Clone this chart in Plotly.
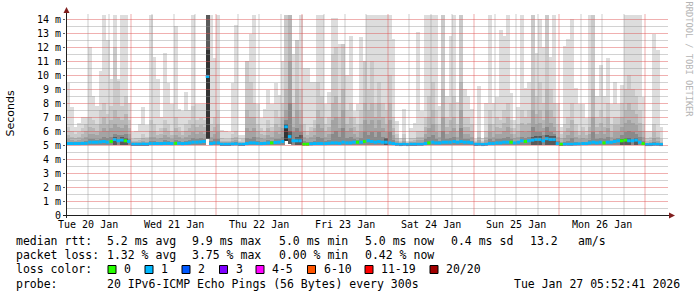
import math
import plotly.graph_objects as go
from datetime import datetime, timedelta

# ---------------- data ----------------
end_time = datetime(2026, 1, 27, 5, 52, 41)
start_time = end_time - timedelta(days=7)
first_bin = datetime(2026, 1, 20, 6, 0, 0)   # hourly consolidated bins

# max ping (lightest smoke)
top = [9.4, 7.7, 6.3, 6.6, 7.0, 7.0, 12.0, 8.5, 7.8, 10.3, 14.3, 12.5,
       9.7, 14.3, 9.7, 14.3, 14.3, 8.0, 5.9, 6.0, 6.5, 7.7, 6.45, 14.3,
       11.3, 9.7, 7.0, 11.6, 9.4, 7.9, 13.5, 7.6, 7.4, 8.8, 7.5, 14.3,
       7.9, 7.9, 7.9, 14.3, 14.3, 11.2, 14.3, 6.1, 6.0, 5.9, 9.4, 13.6,
       5.7, 5.7, 11.0, 12.9, 14.3, 7.9, 6.9, 7.6, 8.9, 7.9, 9.4, 8.6,
       11.0, 14.3, 14.3, 11.5, 12.5, 14.3, 10.5, 10.5, 9.5, 9.5, 14.3, 14.3,
       7.9, 8.8, 14.1, 14.1, 12.2, 12.2, 10.0, 12.8, 7.4, 7.9, 12.7, 11.0,
       14.3, 14.3, 14.3, 14.3, 14.3, 14.3, 14.3, 12.6, 6.7, 5.5, 7.6, 5.3,
       6.2, 6.6, 13.1, 7.4, 14.3, 14.3, 14.3, 14.3, 7.8, 14.3, 8.5, 12.8,
       14.3, 8.1, 14.3, 9.0, 8.5, 7.6, 5.4, 9.2, 5.5, 8.0, 14.3, 8.0,
       8.4, 13.2, 12.8, 14.3, 8.7, 6.8, 7.7, 14.3, 9.1, 9.5, 14.3, 11.6,
       14.0, 12.0, 14.3, 11.3, 14.3, 8.0, 6.3, 12.1, 12.6, 14.0, 9.1, 7.9,
       7.9, 6.9, 14.3, 14.3, 8.5, 10.7, 8.5, 11.2, 7.9, 9.5, 7.9, 9.3,
       14.3, 14.3, 14.3, 14.3, 14.3, 8.4, 6.0, 6.0, 12.9, 11.8, 6.3]

# 19th ping
p19 = [6.3, 6.0, 5.8, 5.9, 6.2, 6.5, 7.0, 6.8, 6.5, 7.5, 8.0, 7.2,
       7.8, 12.0, 9.6, 7.8, 8.5, 6.8, 5.4, 5.5, 5.5, 5.8, 5.6, 6.8,
       6.5, 6.0, 6.2, 6.8, 6.5, 6.0, 7.0, 6.3, 6.0, 6.5, 6.8, 7.8,
       6.8, 6.9, 6.8, 14.3, 6.5, 7.0, 7.5, 5.5, 5.4, 5.4, 5.8, 6.0,
       5.3, 5.4, 11.0, 9.5, 8.0, 6.5, 6.2, 6.0, 6.8, 6.3, 7.5, 7.0,
       8.0, 14.3, 14.3, 8.0, 12.5, 9.0, 6.5, 6.0, 6.3, 6.8, 9.5, 8.5,
       6.5, 7.0, 11.5, 12.0, 8.0, 12.2, 7.5, 8.0, 7.0, 6.5, 7.5, 11.0,
       9.0, 11.0, 8.0, 9.5, 8.0, 7.5, 10.0, 7.0, 5.8, 5.3, 5.8, 5.2,
       5.5, 5.5, 6.0, 6.0, 7.0, 8.5, 9.5, 7.5, 6.5, 14.3, 7.0, 8.0,
       8.5, 6.5, 14.3, 7.0, 7.0, 6.5, 5.3, 6.0, 5.3, 6.0, 7.5, 6.5,
       7.0, 6.8, 7.5, 8.0, 6.8, 6.2, 6.5, 7.5, 7.0, 7.5, 14.3, 8.5,
       9.5, 8.0, 14.3, 9.0, 8.0, 6.5, 5.8, 6.5, 7.0, 8.0, 6.5, 6.0,
       6.3, 6.0, 7.0, 14.3, 7.0, 7.5, 7.0, 8.0, 6.5, 7.0, 7.0, 8.0,
       9.0, 10.0, 9.0, 8.5, 7.5, 6.5, 5.5, 5.6, 6.5, 6.0, 5.4]

# 18th ping
p18 = [5.7, 5.6, 5.5, 5.6, 5.8, 6.0, 6.3, 6.2, 6.0, 6.5, 7.0, 6.5,
       6.8, 7.5, 7.0, 6.8, 7.2, 6.2, 5.3, 5.3, 5.35, 5.5, 5.4, 6.0,
       6.0, 5.7, 5.8, 6.2, 6.0, 5.7, 6.2, 5.9, 5.7, 6.0, 6.2, 6.5,
       6.3, 6.4, 6.3, 14.3, 6.0, 6.3, 6.5, 5.3, 5.3, 5.3, 5.5, 5.6,
       5.2, 5.25, 7.5, 7.0, 7.0, 6.0, 5.8, 5.7, 6.2, 5.9, 6.5, 6.3,
       7.0, 9.0, 14.3, 7.0, 9.0, 7.5, 6.0, 5.7, 5.9, 6.2, 7.5, 7.0,
       6.0, 6.3, 8.0, 8.5, 7.0, 9.0, 6.5, 7.0, 6.3, 6.0, 6.5, 8.0,
       7.5, 8.0, 7.0, 8.0, 7.0, 6.5, 8.0, 6.2, 5.5, 5.2, 5.5, 5.15,
       5.3, 5.35, 5.6, 5.6, 6.3, 7.0, 7.5, 6.5, 6.0, 9.0, 6.3, 6.8,
       7.0, 6.0, 9.5, 6.3, 6.3, 6.0, 5.2, 5.6, 5.2, 5.6, 6.5, 6.0,
       6.3, 6.2, 6.6, 7.0, 6.2, 5.8, 6.0, 6.6, 6.4, 6.6, 9.0, 7.2,
       7.5, 6.8, 9.0, 7.5, 7.0, 6.0, 5.5, 5.9, 6.2, 6.8, 6.0, 5.7,
       5.9, 5.7, 6.3, 9.0, 6.3, 6.6, 6.3, 7.0, 6.0, 6.4, 6.4, 7.0,
       7.5, 8.0, 7.5, 7.2, 6.6, 6.0, 5.3, 5.35, 5.9, 5.6, 5.25]

# 17th ping
p17 = [5.4, 5.35, 5.3, 5.35, 5.45, 5.6, 5.8, 5.8, 5.7, 5.9, 6.2, 6.0,
       6.2, 6.5, 6.3, 6.2, 6.4, 5.8, 5.2, 5.2, 5.25, 5.3, 5.25, 5.6,
       5.6, 5.45, 5.5, 5.7, 5.6, 5.45, 5.7, 5.55, 5.45, 5.6, 5.7, 5.9,
       5.8, 5.9, 5.8, 14.3, 5.6, 5.8, 5.9, 5.2, 5.2, 5.2, 5.3, 5.35,
       5.1, 5.15, 6.2, 6.0, 6.2, 5.6, 5.5, 5.45, 5.7, 5.55, 5.9, 5.8,
       6.2, 7.5, 11.0, 6.3, 7.5, 6.5, 5.6, 5.45, 5.55, 5.7, 6.5, 6.2,
       5.6, 5.8, 6.8, 7.0, 6.2, 7.5, 6.0, 6.2, 5.8, 5.6, 5.9, 6.8,
       6.5, 6.8, 6.2, 6.8, 6.2, 5.9, 6.8, 5.7, 5.3, 5.12, 5.3, 5.1,
       5.2, 5.2, 5.35, 5.35, 5.8, 6.2, 6.5, 5.9, 5.6, 7.0, 5.8, 6.0,
       6.2, 5.6, 7.5, 5.8, 5.8, 5.6, 5.12, 5.35, 5.12, 5.35, 5.9, 5.6,
       5.8, 5.8, 6.0, 6.3, 5.8, 5.5, 5.6, 6.0, 5.9, 6.0, 7.5, 6.5,
       6.6, 6.2, 7.5, 6.6, 6.3, 5.6, 5.25, 5.5, 5.7, 6.0, 5.6, 5.4,
       5.5, 5.4, 5.8, 7.0, 5.8, 6.0, 5.8, 6.2, 5.6, 5.9, 5.9, 6.3,
       6.6, 6.8, 6.6, 6.4, 6.0, 5.6, 5.15, 5.2, 5.5, 5.3, 5.15]

# 15th ping
p15 = [5.25, 5.2, 5.18, 5.2, 5.25, 5.3, 5.4, 5.4, 5.35, 5.45, 5.55, 5.5,
       5.6, 5.8, 5.7, 5.7, 5.8, 5.45, 5.1, 5.1, 5.12, 5.15, 5.12, 5.3,
       5.3, 5.2, 5.25, 5.35, 5.3, 5.2, 5.35, 5.28, 5.22, 5.3, 5.35, 5.5,
       5.45, 5.5, 5.45, 14.3, 5.3, 5.4, 5.45, 5.1, 5.1, 5.1, 5.15, 5.18,
       5.05, 5.07, 5.5, 5.45, 5.6, 5.3, 5.25, 5.22, 5.35, 5.28, 5.45, 5.4,
       5.6, 6.8, 8.0, 5.9, 6.2, 5.9, 5.3, 5.2, 5.25, 5.3, 5.6, 5.5,
       5.28, 5.35, 5.8, 6.0, 5.6, 6.2, 5.5, 5.6, 5.45, 5.35, 5.5, 5.9,
       5.7, 5.9, 5.6, 5.9, 5.6, 5.45, 5.9, 5.35, 5.15, 5.06, 5.12, 5.05,
       5.08, 5.08, 5.15, 5.15, 5.4, 5.6, 5.7, 5.45, 5.3, 6.0, 5.4, 5.5,
       5.6, 5.3, 6.2, 5.4, 5.4, 5.3, 5.06, 5.15, 5.06, 5.15, 5.45, 5.3,
       5.4, 5.4, 5.5, 5.6, 5.4, 5.25, 5.3, 5.55, 5.5, 5.6, 6.3, 5.9,
       5.9, 5.7, 6.3, 5.9, 5.8, 5.3, 5.1, 5.2, 5.3, 5.5, 5.25, 5.15,
       5.2, 5.15, 5.35, 5.9, 5.4, 5.5, 5.4, 5.6, 5.3, 5.45, 5.5, 5.7,
       5.9, 6.0, 5.9, 5.8, 5.6, 5.3, 5.07, 5.08, 5.2, 5.12, 5.06]

# inner pings where clearly visible above the median
core = {13: 5.6, 15: 5.55, 16: 5.5, 39: 14.3, 61: 6.5, 62: 6.0, 64: 5.6,
        65: 5.7, 89: 5.5, 130: 5.55, 131: 5.65, 132: 5.65, 134: 5.7,
        135: 5.65, 136: 5.65, 155: 5.45, 156: 5.5, 157: 5.5, 159: 5.5}
core2 = {39: 11.8, 61: 6.4}

# min ping
lo = [5.0, 5.0, 5.0, 5.0, 5.0, 5.0, 5.0, 5.0, 5.0, 5.0, 5.0, 5.0,
      5.0, 5.0, 5.0, 5.0, 5.0, 5.0, 4.95, 4.95, 4.93, 4.95, 4.95, 5.0,
      5.0, 5.0, 5.0, 5.0, 5.0, 5.0, 5.0, 5.0, 5.0, 5.0, 5.0, 5.0,
      5.0, 5.0, 5.0, 5.4, 5.0, 5.0, 5.0, 4.95, 4.95, 4.95, 4.97, 4.97,
      4.95, 4.95, 5.0, 5.0, 5.0, 5.0, 5.0, 5.0, 5.0, 5.0, 5.0, 5.0,
      5.0, 5.3, 5.1, 5.0, 5.0, 5.0, 4.97, 4.97, 5.0, 5.0, 5.0, 5.0,
      5.0, 5.0, 5.0, 5.0, 5.0, 5.0, 5.0, 5.0, 5.0, 5.0, 5.0, 5.0,
      5.0, 5.0, 5.0, 5.0, 5.0, 5.0, 5.0, 5.0, 4.97, 4.95, 4.97, 4.95,
      4.95, 4.95, 4.97, 4.97, 5.0, 5.0, 5.0, 5.0, 5.0, 5.0, 5.0, 5.0,
      5.0, 5.0, 5.0, 5.0, 5.0, 5.0, 4.95, 4.97, 4.95, 4.97, 5.0, 5.0,
      5.0, 5.0, 5.0, 5.0, 5.0, 5.0, 5.0, 5.0, 5.0, 5.0, 5.0, 5.0,
      5.0, 5.0, 5.0, 5.0, 5.0, 5.0, 4.95, 4.97, 4.97, 4.97, 4.97, 4.97,
      5.0, 5.0, 5.0, 5.0, 5.0, 5.0, 5.0, 5.0, 5.0, 5.0, 5.0, 5.0,
      5.0, 5.0, 5.0, 5.0, 5.0, 4.97, 4.95, 4.95, 4.97, 4.97, 4.95]

median = [5.1, 5.1, 5.1, 5.1, 5.12, 5.12, 5.2, 5.2, 5.2, 5.22, 5.25, 5.2,
          5.25, 5.4, 5.3, 5.35, 5.3, 5.25, 5.05, 5.05, 5.05, 5.07, 5.05, 5.1,
          5.1, 5.1, 5.1, 5.12, 5.12, 5.1, 5.12, 5.12, 5.1, 5.12, 5.15, 5.2,
          5.2, 5.22, 5.25, 9.9, 5.1, 5.15, 5.15, 5.05, 5.05, 5.05, 5.07, 5.08,
          5.05, 5.05, 5.1, 5.15, 5.15, 5.12, 5.1, 5.12, 5.15, 5.15, 5.18, 5.2,
          5.25, 6.3, 5.6, 5.3, 5.3, 5.3, 5.05, 5.05, 5.08, 5.1, 5.1, 5.1,
          5.1, 5.12, 5.15, 5.15, 5.12, 5.2, 5.15, 5.15, 5.2, 5.2, 5.2, 5.25,
          5.3, 5.25, 5.2, 5.25, 5.2, 5.2, 5.15, 5.1, 5.05, 5.03, 5.05, 5.03,
          5.05, 5.05, 5.05, 5.05, 5.1, 5.15, 5.2, 5.15, 5.15, 5.2, 5.2, 5.2,
          5.25, 5.2, 5.25, 5.2, 5.2, 5.15, 5.05, 5.05, 5.03, 5.05, 5.1, 5.1,
          5.15, 5.15, 5.2, 5.2, 5.2, 5.15, 5.2, 5.3, 5.25, 5.3, 5.35, 5.4,
          5.4, 5.3, 5.45, 5.4, 5.4, 5.1, 5.05, 5.05, 5.05, 5.05, 5.07, 5.08,
          5.1, 5.1, 5.15, 5.2, 5.15, 5.2, 5.15, 5.2, 5.2, 5.25, 5.3, 5.3,
          5.35, 5.3, 5.3, 5.35, 5.2, 5.1, 5.03, 5.03, 5.05, 5.05, 5.03]

# bins where no packet was lost (all others: 1 of 20 lost)
zero_loss_bins = [12, 16, 30, 57, 66, 67, 81, 83, 101, 124, 128, 138,
                  150, 155, 156, 161]

day_labels = ["Tue 20 Jan", "Wed 21 Jan", "Thu 22 Jan", "Fri 23 Jan",
              "Sat 24 Jan", "Sun 25 Jan", "Mon 26 Jan"]
y_ticks = list(range(0, 15))
y_ticktext = ["0"] + ["%d m" % v for v in range(1, 15)]

loss_legend = [("0", "#26ff00"), ("1", "#00b8ff"), ("2", "#0059ff"),
               ("3", "#7e00ff"), ("4-5", "#ff00ff"), ("6-10", "#ff5500"),
               ("11-19", "#ff0000"), ("20/20", "#a10000")]

# ---------------- geometry ----------------
W, H = 697, 297
L, R, T, B = 66, 31, 15, 82
PW, PH = W - L - R, H - T - B
PX_PER_MS = 14.0
YMAX = PH / PX_PER_MS
SPAN = (end_time - start_time).total_seconds()

def px(x):
    return (x - L) / PW

def py(y):
    return (T + PH - y) / PH

def t2px(t):
    return L + (t - start_time).total_seconds() / SPAN * PW

def snap(v):
    return math.floor(v) + 0.5

n = len(top)
bins = [first_bin + timedelta(hours=k) for k in range(n)]
bins_end = [b + timedelta(hours=1) for b in bins]
HOUR_MS = 3600 * 1000

fig = go.Figure()

bands = [(top, "#dddddd"), (p19, "#cacaca"), (p18, "#b7b7b7"),
         (p17, "#a4a4a4"), (p15, "#8a8a8a")]
for hi, col in bands:
    fig.add_trace(go.Bar(
        x=bins, y=[h - l for h, l in zip(hi, lo)], base=lo,
        width=HOUR_MS * 1.12, offset=0,
        marker=dict(color=col, line=dict(width=0)),
        hoverinfo="skip", showlegend=False))

for dct, col in [(core, "#5a5a5a"), (core2, "#343434")]:
    ks = sorted(dct)
    fig.add_trace(go.Bar(x=[bins[k] for k in ks],
                         y=[dct[k] - lo[k] for k in ks],
                         base=[lo[k] for k in ks],
                         width=HOUR_MS * 1.12, offset=0,
                         marker=dict(color=col, line=dict(width=0)),
                         hoverinfo="skip", showlegend=False))

# median line, coloured by loss
loss_color = {0: "#26ff00", 1: "#00b8ff"}
for loss_val, col in loss_color.items():
    xs, ys = [], []
    for k in range(n):
        lv = 0 if k in zero_loss_bins else 1
        if lv != loss_val:
            continue
        xs += [bins[k], bins_end[k], None]
        ys += [median[k], median[k], None]
    fig.add_trace(go.Scatter(x=xs, y=ys, mode="lines",
                             line=dict(color=col, width=3),
                             hoverinfo="skip", showlegend=False))

# light grid drawn above the smoke
GRID_H = "rgba(143,143,143,0.40)"
MGRID_H = "rgba(222,79,79,0.45)"
GRID_V = "rgba(143,143,143,0.45)"
MGRID_V = "rgba(222,79,79,0.48)"
shapes = []
for i in range(1, 29):
    v = i * 0.5
    ypx = snap(T + PH - v * PX_PER_MS)
    col = MGRID_H if i % 2 == 0 else GRID_H
    shapes.append(dict(type="line", xref="paper", yref="paper",
                       x0=px(67), x1=px(668), y0=py(ypx), y1=py(ypx),
                       layer="above", line=dict(color=col, width=1)))
t = datetime(2026, 1, 20, 12, 0, 0)
while t < end_time:
    xpx = round(t2px(t))
    col = MGRID_V if t.hour == 0 else GRID_V
    shapes.append(dict(type="line", xref="paper", yref="paper",
                       x0=px(xpx), x1=px(xpx), y0=py(215), y1=py(14),
                       layer="above", line=dict(color=col, width=1)))
    t += timedelta(hours=6)

# axes lines and arrows
shapes.append(dict(type="line", xref="paper", yref="paper",
                   x0=px(63), x1=px(670), y0=py(215.5), y1=py(215.5),
                   line=dict(color="#1f1f1f", width=1), layer="above"))
shapes.append(dict(type="line", xref="paper", yref="paper",
                   x0=px(66.5), x1=px(66.5), y0=py(218), y1=py(11),
                   line=dict(color="#1f1f1f", width=1), layer="above"))
shapes.append(dict(type="path", xref="paper", yref="paper",
                   path="M %f,%f L %f,%f L %f,%f Z" % (
                       px(66.5), py(7), px(63.5), py(13), px(69.5), py(13)),
                   fillcolor="#801f1f", line=dict(width=0), layer="above"))
shapes.append(dict(type="path", xref="paper", yref="paper",
                   path="M %f,%f L %f,%f L %f,%f Z" % (
                       px(675), py(215.5), px(669), py(212.5), px(669), py(218.5)),
                   fillcolor="#801f1f", line=dict(width=0), layer="above"))

annotations = []

def txt(x, y, s, size=11.5, anchor="left", color="#000000",
        family="DejaVu Sans Mono", angle=0, yanchor="middle"):
    annotations.append(dict(
        x=px(x), y=py(y), xref="paper", yref="paper",
        text=s.replace(" ", "\u00a0"), showarrow=False,
        xanchor=anchor, yanchor=yanchor, borderpad=0, textangle=angle,
        font=dict(family=family, size=size, color=color)))

# x day labels at noon
for d, lab in enumerate(day_labels):
    noon = datetime(2026, 1, 20, 12, 0, 0) + timedelta(days=d)
    annotations.append(dict(
        x=noon, y=py(224.5), xref="x", yref="paper",
        text=lab.replace(" ", "\u00a0"), showarrow=False,
        xanchor="center", yanchor="middle", borderpad=0,
        font=dict(family="DejaVu Sans Mono", size=10, color="#000000")))

txt(10, 113.5, "Seconds", size=11, anchor="center", family="DejaVu Sans", angle=-90)
txt(688.5, 59, "RRDTOOL / TOBI OETIKER", size=8.7, anchor="center",
    color="#b4b4b4", angle=90)

# legend block
y1, y2, y3, y4 = 241.3, 255.2, 269.4, 283.6
txt(15, y1, "median rtt:")
for x, s in [(106, "5.2 ms avg"), (191, "9.9 ms max"), (278, "5.0 ms min"),
             (364, "5.0 ms now"), (450, "0.4 ms sd"), (529, "13.2"),
             (577, "am/s")]:
    txt(x, y1, s)
txt(15, y2, "packet loss:")
for x, s in [(106, "1.32 % avg"), (191, "3.75 % max"), (278, "0.00 % min"),
             (364, "0.42 % now")]:
    txt(x, y2, s)
txt(15, y3, "loss color:")
box_x = [108, 145, 182, 219.5, 256, 307.5, 365, 430]
for (lab, col), bx in zip(loss_legend, box_x):
    shapes.append(dict(type="rect", xref="paper", yref="paper",
                       x0=px(bx), x1=px(bx + 8), y0=py(265.5), y1=py(273.5),
                       fillcolor=col, line=dict(color="#000000", width=1),
                       layer="above"))
    txt(bx + 15, y3, lab)
txt(15, y4, "probe:")
txt(106, y4, "20 IPv6-ICMP Echo Pings (56 Bytes) every 300s")
txt(681, y4, "Tue Jan 27 05:52:41 2026", anchor="right")

fig.update_layout(
    width=W, height=H,
    margin=dict(l=L, r=R, t=T, b=B, pad=0),
    paper_bgcolor="#ffffff", plot_bgcolor="#ffffff",
    barmode="overlay", bargap=0, bargroupgap=0,
    showlegend=False,
    shapes=shapes, annotations=annotations,
    xaxis=dict(type="date", range=[start_time, end_time], showgrid=False,
               zeroline=False, showticklabels=False, showline=False,
               ticks="", fixedrange=True),
    yaxis=dict(range=[0, YMAX], showgrid=False, zeroline=False,
               showline=False, tickmode="array", tickvals=y_ticks,
               ticktext=y_ticktext, ticks="outside", ticklen=2,
               tickcolor="#606060",
               tickfont=dict(family="DejaVu Sans Mono", size=10, color="#000000"),
               fixedrange=True),
)

fig.write_html("out.html", config={"displayModeBar": False})
